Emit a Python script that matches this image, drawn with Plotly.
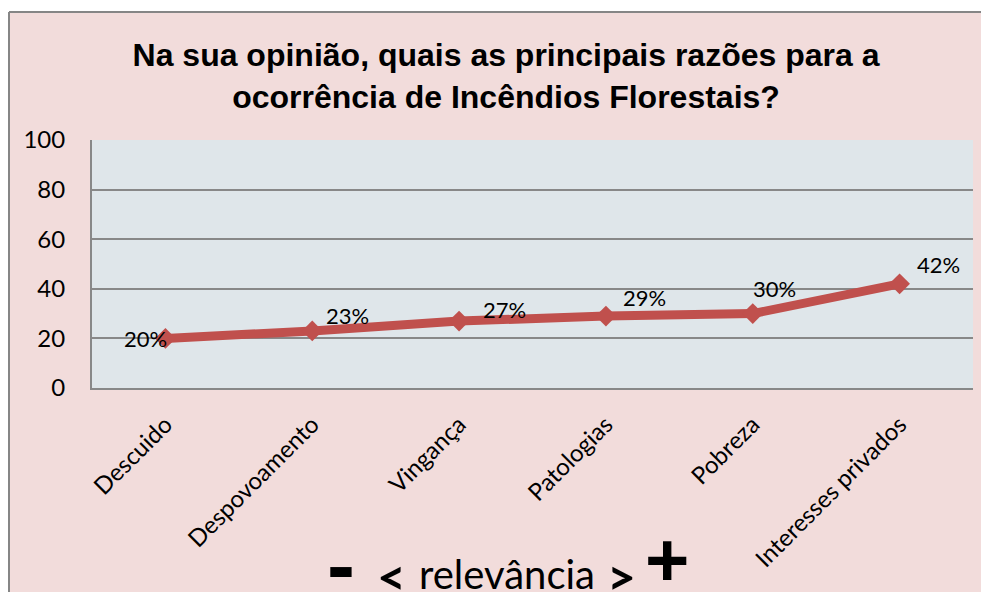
import plotly.graph_objects as go

categories = ["Descuido", "Despovoamento", "Vingança", "Patologias", "Pobreza", "Interesses privados"]
values = [20, 23, 27, 29, 30, 42]
labels = ["20%", "23%", "27%", "29%", "30%", "42%"]
y_ticks = [0, 20, 40, 60, 80, 100]

# label placement (pixels), the way Excel put them
label_anchor = ["right", "left", "left", "left", "left", "left"]
label_dx = [4, 12, 22, 15, -2, 15]
label_dy = [0, 15, 12, 19, 25, 19]

PINK = "#F2DCDB"
PLOT_BG = "#DFE6EA"
GRID = "#888888"
RED = "#C0504D"
BODY_FONT = "Lato"

# the page body has an 8px margin, so shift everything by it
OFF = 8
W, H = 989 - OFF, 592 - OFF
L, T = 92 - OFF, 140 - OFF
R = W - (973 - OFF)
B = H - (388 - OFF)


# screen pixel -> paper coords
def px(x):
    return (x - OFF - L) / (W - L - R)


def py(y):
    return (H - B - (y - OFF)) / (H - T - B)


fig = go.Figure()
fig.add_trace(go.Scatter(
    x=categories, y=values, mode="lines+markers",
    line=dict(color=RED, width=9),
    marker=dict(symbol="diamond", size=16, color=RED),
    cliponaxis=False, showlegend=False,
))

for cat, val, lab, anc, dx, dy in zip(categories, values, labels, label_anchor, label_dx, label_dy):
    fig.add_annotation(x=cat, y=val, text=lab, showarrow=False,
                       xanchor=anc, yanchor="middle", xshift=dx, yshift=dy,
                       font=dict(family=BODY_FONT, size=22, color="black"))

fig.update_layout(
    width=W, height=H,
    margin=dict(l=L, r=R, t=T, b=B),
    paper_bgcolor=PINK, plot_bgcolor=PLOT_BG,
    title=dict(
        text="Na sua opinião, quais as principais razões para a<br>ocorrência de Incêndios Florestais?",
        x=(506 - OFF) / W, xanchor="center", y=1 - (66 - OFF) / H, yanchor="middle",
        font=dict(family="Liberation Sans", size=32, color="black", weight="bold"),
    ),
)
fig.update_xaxes(
    range=[-0.5, 5.5], showgrid=False, showline=True, linecolor=GRID, linewidth=2,
    tickangle=-45, ticks="", ticklabelstandoff=11,
    tickfont=dict(family=BODY_FONT, size=24, color="black"),
)
fig.update_yaxes(
    range=[0, 100], tickvals=y_ticks, showgrid=True, gridcolor=GRID, gridwidth=1.5,
    showline=True, linecolor=GRID, linewidth=2, zeroline=False,
    ticks="", ticklabelstandoff=20,
    tickfont=dict(family=BODY_FONT, size=24, color="black"),
)

# outer chart frame: white outside, gray border
fig.add_shape(type="rect", xref="paper", yref="paper", x0=-1, x1=2, y0=py(12), y1=3,
              fillcolor="white", line_width=0, layer="above")
fig.add_shape(type="rect", xref="paper", yref="paper", x0=-1, x1=px(9), y0=-3, y1=3,
              fillcolor="white", line_width=0, layer="above")
fig.add_shape(type="line", xref="paper", yref="paper", x0=px(9), x1=2, y0=py(12), y1=py(12),
              line=dict(color="#868686", width=2))
fig.add_shape(type="line", xref="paper", yref="paper", x0=px(9), x1=px(9), y0=py(12), y1=-3,
              line=dict(color="#868686", width=2))

# relevance scale text at the bottom
bottom_texts = [
    ("<b>-</b>", 341, 565, "Liberation Sans", 84),
    ("<b>&lt;</b>", 391, 576, BODY_FONT, 50),
    ("relevância", 507, 574, BODY_FONT, 40),
    ("<b>&gt;</b>", 621, 576, BODY_FONT, 50),
    ("<b>+</b>", 667, 559, "Liberation Sans", 76),
]
for txt, x, y, fam, size in bottom_texts:
    fig.add_annotation(text=txt, xref="paper", yref="paper", x=px(x), y=py(y),
                       xanchor="center", yanchor="middle", showarrow=False,
                       font=dict(family=fam, size=size, color="black"))

fig.write_html("out.html")
